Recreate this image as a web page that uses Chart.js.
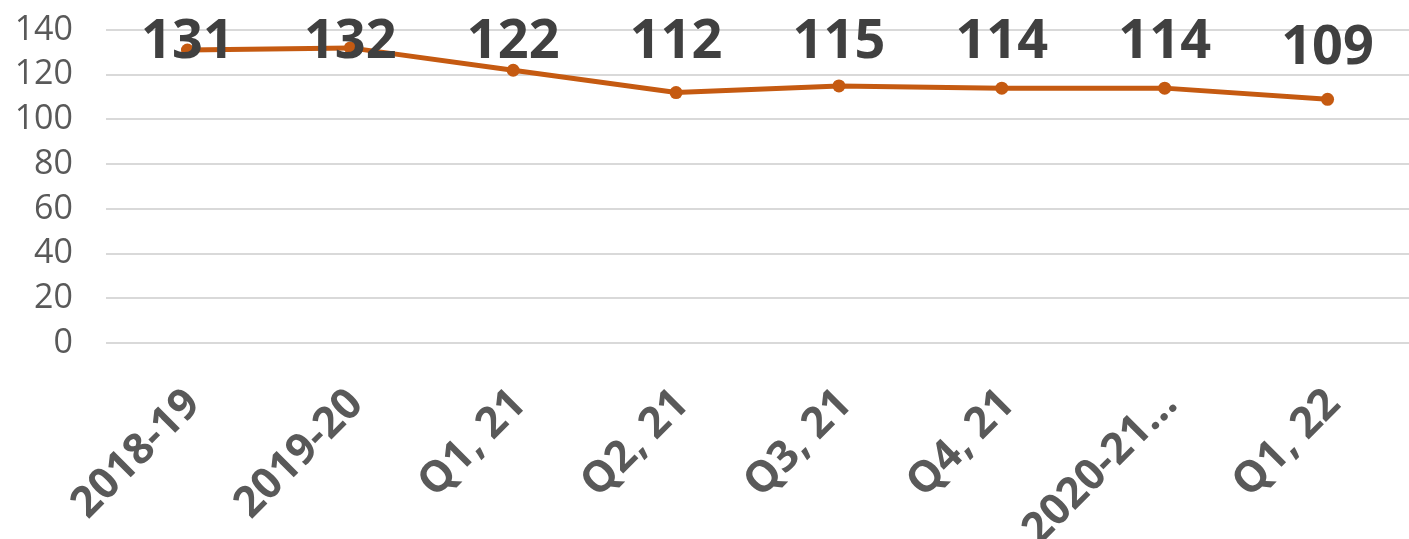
<!DOCTYPE html>
<html>
<head>
<meta charset="utf-8">
<script src="https://cdn.jsdelivr.net/npm/chart.js@4/dist/chart.umd.min.js"></script>
<style>
html,body{margin:0;padding:0;background:#fff;}
#wrap{width:1409px;height:539px;position:relative;}
</style>
</head>
<body>
<div id="wrap"><canvas id="c"></canvas></div>
<script>
const categories = ["2018-19", "2019-20", "Q1, 21", "Q2, 21", "Q3, 21", "Q4, 21", "2020-21…", "Q1, 22"];
const values = [131, 132, 122, 112, 115, 114, 114, 109];
const yTicks = [0, 20, 40, 60, 80, 100, 120, 140];

const lineColor = '#C55A11';

const labelPlugin = {
  id: 'valueLabels',
  afterDatasetsDraw(chart) {
    const ctx = chart.ctx;
    const meta = chart.getDatasetMeta(0);
    ctx.save();
    ctx.font = 'bold 54px "Open Sans"';
    ctx.fillStyle = '#404040';
    ctx.textAlign = 'center';
    ctx.textBaseline = 'alphabetic';
    meta.data.forEach((pt, i) => {
      const bottom = Math.max(pt.y - 35, 58);
      ctx.fillText(String(values[i]), pt.x, bottom);
    });
    ctx.restore();
  }
};

new Chart(document.getElementById('c'), {
  type: 'line',
  data: {
    labels: categories,
    datasets: [{
      data: values,
      borderColor: lineColor,
      backgroundColor: lineColor,
      borderWidth: 5,
      pointRadius: 6.5,
      pointBackgroundColor: lineColor,
      pointBorderColor: lineColor,
      pointBorderWidth: 0,
      tension: 0,
      fill: false
    }]
  },
  options: {
    responsive: true,
    maintainAspectRatio: false,
    animation: false,
    layout: { autoPadding: false, padding: { top: 30, right: 0, left: 0, bottom: 0 } },
    plugins: { legend: { display: false }, tooltip: { enabled: false } },
    scales: {
      x: {
        offset: true,
        grid: { display: false, drawTicks: false, offset: true },
        border: { display: false },
        ticks: {
          autoSkip: false,
          minRotation: 45,
          maxRotation: 45,
          padding: 36,
          labelOffset: 6,
          color: '#595959',
          font: { family: '"Open Sans"', size: 43, weight: 'bold' }
        },
        afterFit(s) { s.height = 196; s.paddingLeft = 0; s.paddingRight = 0; }
      },
      y: {
        min: 0,
        max: 140,
        afterBuildTicks(s) { s.ticks = yTicks.map(v => ({ value: v })); },
        grid: { color: '#d9d9d9', lineWidth: 2, drawTicks: false },
        border: { display: false },
        ticks: {
          padding: 33,
          color: '#595959',
          font: { family: '"Open Sans"', size: 34 }
        },
        afterFit(s) { s.width = 106; s.paddingTop = 0; s.paddingBottom = 0; }
      }
    }
  },
  plugins: [labelPlugin]
});
</script>
</body>
</html>
